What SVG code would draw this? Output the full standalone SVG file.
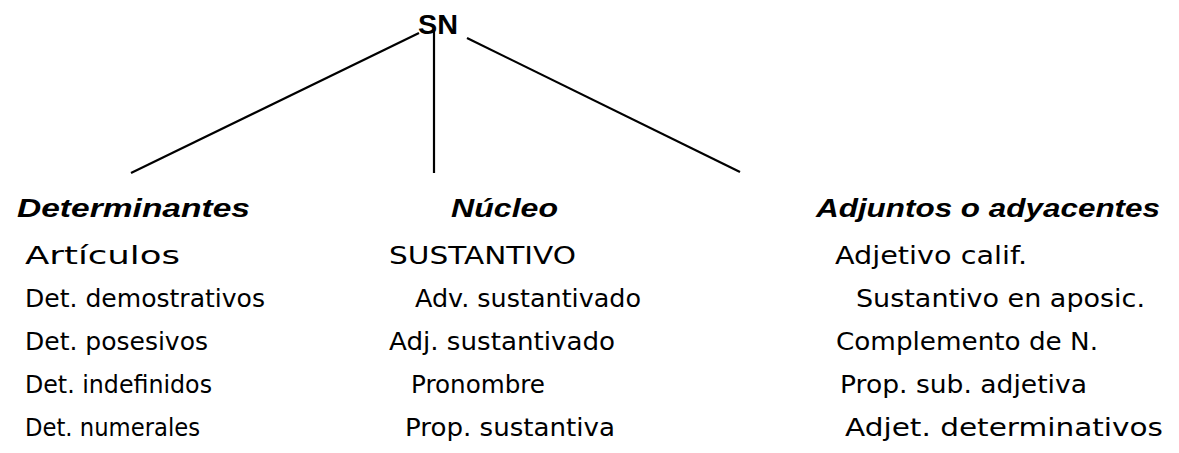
<svg xmlns="http://www.w3.org/2000/svg" width="1179" height="453" viewBox="0 0 1179 453">
<style>
.h{font-family:"Liberation Sans",Arial,sans-serif;font-size:26px;font-weight:bold;font-style:italic;fill:#000}
.t{font-family:"DejaVu Sans","Liberation Sans",sans-serif;font-size:24px;fill:#000}
.sn{font-family:"Liberation Sans",Arial,sans-serif;font-size:27px;font-weight:bold;fill:#000}
.c{stroke:#000;stroke-width:2.2;fill:none}
</style>
<rect width="1179" height="453" fill="#fff"/>
<g id="connectors">
<line class="c" x1="419" y1="33" x2="131" y2="173"/>
<line class="c" x1="434" y1="30" x2="434" y2="173"/>
<line class="c" x1="467" y1="38" x2="740" y2="172"/>
</g>
<g id="sn"><text class="sn" x="418" y="34" textLength="40" lengthAdjust="spacingAndGlyphs">SN</text></g>
<g id="determinantes">
<text class="h" x="17" y="217" textLength="233" lengthAdjust="spacingAndGlyphs">Determinantes</text>
<text class="t" x="25" y="264" textLength="155" lengthAdjust="spacingAndGlyphs">Artículos</text>
<text class="t" x="25" y="307" textLength="240" lengthAdjust="spacingAndGlyphs">Det. demostrativos</text>
<text class="t" x="25" y="350" textLength="183" lengthAdjust="spacingAndGlyphs">Det. posesivos</text>
<text class="t" x="25" y="393" textLength="187" lengthAdjust="spacingAndGlyphs">Det. indefinidos</text>
<text class="t" x="25" y="436" textLength="175" lengthAdjust="spacingAndGlyphs">Det. numerales</text>
</g>
<g id="nucleo">
<text class="h" x="451" y="217" textLength="107" lengthAdjust="spacingAndGlyphs">Núcleo</text>
<text class="t" x="389" y="264" textLength="187" lengthAdjust="spacingAndGlyphs">SUSTANTIVO</text>
<text class="t" x="415" y="307" textLength="226" lengthAdjust="spacingAndGlyphs">Adv. sustantivado</text>
<text class="t" x="389" y="350" textLength="226" lengthAdjust="spacingAndGlyphs">Adj. sustantivado</text>
<text class="t" x="411" y="393" textLength="134" lengthAdjust="spacingAndGlyphs">Pronombre</text>
<text class="t" x="405" y="436" textLength="210" lengthAdjust="spacingAndGlyphs">Prop. sustantiva</text>
</g>
<g id="adjuntos">
<text class="h" x="816" y="217" textLength="344" lengthAdjust="spacingAndGlyphs">Adjuntos o adyacentes</text>
<text class="t" x="835" y="264" textLength="192" lengthAdjust="spacingAndGlyphs">Adjetivo calif.</text>
<text class="t" x="856" y="307" textLength="289" lengthAdjust="spacingAndGlyphs">Sustantivo en aposic.</text>
<text class="t" x="836" y="350" textLength="262" lengthAdjust="spacingAndGlyphs">Complemento de N.</text>
<text class="t" x="840" y="393" textLength="247" lengthAdjust="spacingAndGlyphs">Prop. sub. adjetiva</text>
<text class="t" x="845" y="436" textLength="318" lengthAdjust="spacingAndGlyphs">Adjet. determinativos</text>
</g>
</svg>
